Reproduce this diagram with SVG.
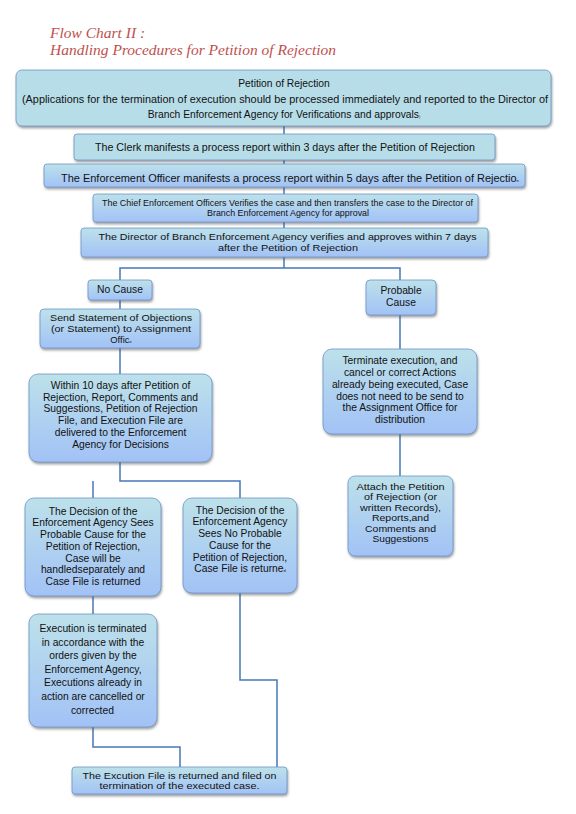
<svg xmlns="http://www.w3.org/2000/svg" width="576" height="814" viewBox="0 0 576 814">
<style>
.box{stroke:#6a96c8;stroke-width:0.8;filter:url(#sh)}
.flat{fill:#b7dde8}
.grad{fill:url(#g)}
.t{font-family:"Liberation Sans",Arial,sans-serif;font-size:10.3px;fill:#111;text-anchor:middle}
.m{font-size:9.4px}
.s{font-size:8.2px}
.tiny{font-size:4px}
.title{font-family:"Liberation Serif","Times New Roman",serif;font-style:italic;font-size:15.5px;fill:#c0504d}
.c{fill:none;stroke:#4677b8;stroke-width:1.5}
</style>
<defs>
<linearGradient id="g" x1="0" y1="0" x2="0" y2="1">
<stop offset="0" stop-color="#bde1ea"/>
<stop offset="1" stop-color="#a2c2f6"/>
</linearGradient>
<filter id="sh" x="-10%" y="-10%" width="120%" height="130%">
<feDropShadow dx="0.8" dy="2" stdDeviation="1" flood-color="#555" flood-opacity="0.55"/>
</filter>
</defs>
<rect width="576" height="814" fill="#fff"/>
<g id="title">
<text class="title" x="50" y="38">Flow Chart II :</text>
<text class="title" x="50" y="55" textLength="286" lengthAdjust="spacingAndGlyphs">Handling Procedures for Petition of Rejection</text>
</g>
<g id="connectors">
<path class="c" d="M284 126V268"/>
<path class="c" d="M120 280V268H400V280"/>
<path class="c" d="M120 300V374"/>
<path class="c" d="M120 462V481H240V498"/>
<path class="c" d="M93 481V614"/>
<path class="c" d="M400 315V476"/>
<path class="c" d="M93 727V747H180V767"/>
<path class="c" d="M240 593V680H277V767"/>
</g>
<g id="n1"><rect class="box flat" x="16" y="70" width="535" height="56" rx="6"/>
<text class="t" x="284" y="87">Petition of Rejection</text>
<text class="t" x="285" y="102.7" textLength="526" lengthAdjust="spacingAndGlyphs">(Applications for the termination of execution should be processed immediately and reported to the Director of</text>
<text class="t" x="284" y="118">Branch Enforcement Agency for Verifications and approvals<tspan class="tiny">)</tspan></text></g>
<g id="n2"><rect class="box flat" x="74" y="134" width="421" height="26" rx="3"/>
<text class="t" x="285" y="151" textLength="380" lengthAdjust="spacingAndGlyphs">The Clerk manifests a process report within 3 days after the Petition of Rejection</text></g>
<g id="n3"><rect class="box grad" x="44" y="164" width="481" height="23" rx="3"/>
<text class="t" x="290" y="182" textLength="458" lengthAdjust="spacingAndGlyphs">The Enforcement Officer manifests a process report within 5 days after the Petition of Rejectio<tspan class="tiny">n</tspan></text></g>
<g id="n4"><rect class="box grad" x="93" y="194" width="385" height="28" rx="3"/>
<text class="t s" x="287.5" y="206.2" textLength="371" lengthAdjust="spacingAndGlyphs">The Chief Enforcement Officers Verifies the case and then transfers the case to the Director of</text>
<text class="t s" x="288" y="215.8" textLength="162" lengthAdjust="spacingAndGlyphs">Branch Enforcement Agency for approval</text></g>
<g id="n5"><rect class="box grad" x="81" y="228" width="407" height="29" rx="3"/>
<text class="t m" x="287.5" y="240.3" textLength="378" lengthAdjust="spacingAndGlyphs">The Director of Branch Enforcement Agency verifies and approves within 7 days</text>
<text class="t m" x="288" y="250.9" textLength="140" lengthAdjust="spacingAndGlyphs">after the Petition of Rejection</text></g>
<g id="n6"><rect class="box grad" x="88" y="280" width="64" height="20" rx="3"/>
<text class="t" x="120" y="293">No Cause</text></g>
<g id="n7"><rect class="box grad" x="366" y="280" width="70" height="35" rx="4"/>
<text class="t" x="401" y="294.4">Probable</text>
<text class="t" x="401" y="306">Cause</text></g>
<g id="n8"><rect class="box grad" x="40" y="309" width="160" height="39" rx="4"/>
<text class="t m" x="121" y="321.3" textLength="142" lengthAdjust="spacingAndGlyphs">Send Statement of Objections</text>
<text class="t m" x="121" y="331.9" textLength="140" lengthAdjust="spacingAndGlyphs">(or Statement) to Assignment</text>
<text class="t m" x="121" y="342.5">Offic<tspan class="tiny">e</tspan></text></g>
<g id="n9"><rect class="box grad" x="29" y="374" width="183" height="88" rx="9"/>
<text class="t" x="120.5" y="389">Within 10 days after Petition of</text>
<text class="t" x="120.5" y="400.7">Rejection, Report, Comments and</text>
<text class="t" x="120.5" y="412.4">Suggestions, Petition of Rejection</text>
<text class="t" x="120.5" y="424.1">File, and Execution File are</text>
<text class="t" x="120.5" y="435.8">delivered to the Enforcement</text>
<text class="t" x="120.5" y="447.5">Agency for Decisions</text></g>
<g id="n10"><rect class="box grad" x="323" y="349" width="154" height="85" rx="9"/>
<text class="t" x="400" y="364.4">Terminate execution, and</text>
<text class="t" x="400" y="376.1">cancel or correct Actions</text>
<text class="t" x="400" y="387.8">already being executed, Case</text>
<text class="t" x="400" y="399.5">does not need to be send to</text>
<text class="t" x="400" y="411.2">the Assignment Office for</text>
<text class="t" x="400" y="422.9">distribution</text></g>
<g id="n11"><rect class="box grad" x="348" y="476" width="105" height="80" rx="7"/>
<text class="t m" x="400.5" y="489.5" textLength="88" lengthAdjust="spacingAndGlyphs">Attach the Petition</text>
<text class="t m" x="400.5" y="500" textLength="73" lengthAdjust="spacingAndGlyphs">of Rejection (or</text>
<text class="t m" x="400.5" y="510.5" textLength="81" lengthAdjust="spacingAndGlyphs">written Records),</text>
<text class="t m" x="400.5" y="521" textLength="57" lengthAdjust="spacingAndGlyphs">Reports,and</text>
<text class="t m" x="400.5" y="531.5" textLength="71" lengthAdjust="spacingAndGlyphs">Comments and</text>
<text class="t m" x="400.5" y="542" textLength="56" lengthAdjust="spacingAndGlyphs">Suggestions</text></g>
<g id="n12"><rect class="box grad" x="25" y="498" width="136" height="98" rx="9"/>
<text class="t" x="93" y="514.7">The Decision of the</text>
<text class="t" x="93" y="526.4">Enforcement Agency Sees</text>
<text class="t" x="93" y="538.1">Probable Cause for the</text>
<text class="t" x="93" y="549.8">Petition of Rejection,</text>
<text class="t" x="93" y="561.5">Case will be</text>
<text class="t" x="93" y="573.2">handledseparately and</text>
<text class="t" x="93" y="584.9">Case File is returned</text></g>
<g id="n13"><rect class="box grad" x="183" y="498" width="114" height="95" rx="9"/>
<text class="t" x="240" y="513.7">The Decision of the</text>
<text class="t" x="240" y="525.4">Enforcement Agency</text>
<text class="t" x="240" y="537.1">Sees No Probable</text>
<text class="t" x="240" y="548.8">Cause for the</text>
<text class="t" x="240" y="560.5">Petition of Rejection,</text>
<text class="t" x="240" y="572.2">Case File is returne<tspan class="tiny">d</tspan></text></g>
<g id="n14"><rect class="box grad" x="29" y="614" width="128" height="113" rx="9"/>
<text class="t" x="93" y="632.4">Execution is terminated</text>
<text class="t" x="93" y="646">in accordance with the</text>
<text class="t" x="93" y="659.4">orders given by the</text>
<text class="t" x="93" y="673">Enforcement Agency,</text>
<text class="t" x="93" y="686.4">Executions already in</text>
<text class="t" x="93" y="700">action are cancelled or</text>
<text class="t" x="93" y="713.7">corrected<tspan class="tiny">.</tspan></text></g>
<g id="n15"><rect class="box grad" x="72" y="767" width="215" height="27" rx="3"/>
<text class="t m" x="179.5" y="778.6" textLength="194" lengthAdjust="spacingAndGlyphs">The Excution File is returned and filed on</text>
<text class="t m" x="179.5" y="789.2" textLength="160" lengthAdjust="spacingAndGlyphs">termination of the executed case.</text></g>
</svg>
